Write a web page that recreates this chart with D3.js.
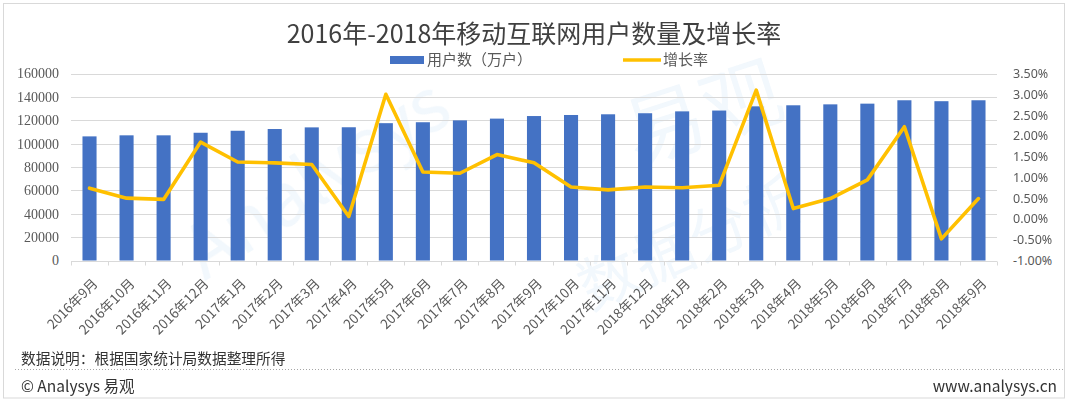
<!DOCTYPE html>
<html>
<head>
<meta charset="utf-8">
<script src="https://cdn.jsdelivr.net/npm/d3@7"></script>
<style>
  html, body { margin: 0; padding: 0; background: #fff; }
  svg { display: block; }
</style>
</head>
<body>
<div id="chart"></div>
<script>
// data
const months = ['2016年9月', '2016年10月', '2016年11月', '2016年12月',
  '2017年1月', '2017年2月', '2017年3月', '2017年4月', '2017年5月', '2017年6月',
  '2017年7月', '2017年8月', '2017年9月', '2017年10月', '2017年11月', '2018年12月',
  '2018年1月', '2018年2月', '2018年3月', '2018年4月', '2018年5月', '2018年6月',
  '2018年7月', '2018年8月', '2018年9月'];
const users = [106200, 107100, 107100, 109300, 111000, 112500, 113900, 114000,
  117500, 118300, 119900, 121400, 123600, 124500, 125100, 126000, 127600,
  128300, 131900, 132800, 133600, 134200, 137100, 136300, 137100];
const growth = [0.74, 0.50, 0.47, 1.85, 1.37, 1.35, 1.31, 0.06, 3.00, 1.13,
  1.10, 1.55, 1.35, 0.77, 0.70, 0.77, 0.75, 0.81, 3.10, 0.25, 0.49, 0.94,
  2.22, -0.48, 0.49];
const leftTicks = [0, 20000, 40000, 60000, 80000, 100000, 120000, 140000, 160000];
const rightTicks = [-1.0, -0.5, 0, 0.5, 1.0, 1.5, 2.0, 2.5, 3.0, 3.5];

const width = 1080, height = 404;
const margin = {top: 73.5, right: 997, bottom: 260.5, left: 71};
const cjk = '"Noto Sans CJK SC", "Noto Sans", sans-serif';

const svg = d3.select('#chart').append('svg')
    .attr('width', width)
    .attr('height', height);

// card frame
svg.append('rect')
    .attr('x', 3.5).attr('y', 3.5)
    .attr('width', 1061).attr('height', 394.5)
    .attr('fill', '#fff')
    .attr('stroke', '#d9d9d9');

// faint watermark
const wm = svg.append('g').style('font-family', cjk).attr('fill', '#8fc1ea').attr('opacity', 0.12);
wm.append('text')
    .attr('transform', 'translate(330,200) rotate(-33)')
    .attr('text-anchor', 'middle')
    .style('font-size', '74px')
    .text('Analysys');
wm.append('text')
    .attr('transform', 'translate(712,140) rotate(-18)')
    .attr('text-anchor', 'middle')
    .style('font-size', '80px')
    .text('易观');
wm.append('text')
    .attr('transform', 'translate(700,262) rotate(-24)')
    .attr('text-anchor', 'middle')
    .style('font-size', '60px')
    .text('数据分析');

let x = d3.scaleBand()
    .domain(months)
    .range([margin.left, margin.right])
    .paddingInner(0.62)
    .paddingOuter(0.31);

let y = d3.scaleLinear()
    .domain([0, 160000])
    .range([margin.bottom, margin.top]);

let y2 = d3.scaleLinear()
    .domain([-1, 3.5])
    .range([margin.bottom, margin.top]);

// gridlines
svg.append('g')
    .selectAll('line')
    .data(leftTicks.slice(1))
    .enter().append('line')
      .attr('x1', margin.left)
      .attr('x2', margin.right)
      .attr('y1', d => Math.round(y(d)) + 0.5)
      .attr('y2', d => Math.round(y(d)) + 0.5)
      .attr('stroke', '#d9d9d9');

// left axis
let yAxis = g => g
    .attr('transform', `translate(${margin.left},0)`)
    .call(d3.axisLeft(y).tickValues(leftTicks).tickFormat(d3.format('d'))
        .tickSize(0).tickPadding(12))
    .call(g => g.select('.domain').remove())
    .call(g => g.selectAll('text')
        .attr('fill', '#595959')
        .style('font-family', '"Liberation Serif", "DejaVu Serif", serif')
        .style('font-size', '14px'));
svg.append('g').call(yAxis);

// right axis
let y2Axis = g => g
    .attr('transform', `translate(${margin.right},0)`)
    .call(d3.axisRight(y2).tickValues(rightTicks)
        .tickFormat(d => d.toFixed(2) + '%')
        .tickSize(0).tickPadding(16))
    .call(g => g.select('.domain').remove())
    .call(g => g.selectAll('text')
        .attr('fill', '#595959')
        .style('font-family', '"Noto Sans", sans-serif')
        .style('font-size', '12.5px'));
svg.append('g').call(y2Axis);

// bars
svg.append('g')
    .attr('fill', '#4472c4')
  .selectAll('rect')
  .data(users)
  .enter().append('rect')
    .attr('x', (d, i) => x(months[i]))
    .attr('y', d => y(d))
    .attr('width', x.bandwidth())
    .attr('height', d => y(0) - y(d));

// x axis line and boundary ticks
const y0 = Math.round(y(0)) + 0.5;
const bounds = d3.range(months.length + 1).map(i => margin.left + i * x.step());
const xg = svg.append('g');
xg.append('line')
    .attr('x1', margin.left).attr('x2', margin.right)
    .attr('y1', y0).attr('y2', y0)
    .attr('stroke', '#d9d9d9');
xg.selectAll('.bt')
    .data(bounds)
    .enter().append('line')
      .attr('x1', d => Math.round(d) + 0.5)
      .attr('x2', d => Math.round(d) + 0.5)
      .attr('y1', y0).attr('y2', y0 + 4)
      .attr('stroke', '#d9d9d9');

// x labels, rotated
let xAxis = g => g
    .attr('transform', `translate(0,${y0})`)
    .call(d3.axisBottom(x).tickSize(0))
    .call(g => g.select('.domain').remove())
    .call(g => g.selectAll('text')
        .attr('y', 0)
        .attr('dy', 0)
        .attr('text-anchor', 'end')
        .attr('transform', 'translate(9,23) rotate(-45)')
        .attr('fill', '#595959')
        .style('font-family', cjk)
        .style('font-size', '13.5px'));
svg.append('g').call(xAxis);

// growth line
let line = d3.line()
    .x((d, i) => x(months[i]) + x.bandwidth() / 2)
    .y(d => y2(d));

svg.append('path')
    .datum(growth)
    .attr('d', line)
    .attr('fill', 'none')
    .attr('stroke', '#ffc000')
    .attr('stroke-width', 3.6)
    .attr('stroke-linejoin', 'round')
    .attr('stroke-linecap', 'round');

// title
svg.append('text')
    .attr('x', 534)
    .attr('y', 43)
    .attr('text-anchor', 'middle')
    .attr('fill', '#404040')
    .style('font-family', cjk)
    .style('font-size', '25px')
    .text('2016年-2018年移动互联网用户数量及增长率');

// legend
const lg = svg.append('g').style('font-family', cjk).style('font-size', '15px').attr('fill', '#595959');
lg.append('rect')
    .attr('x', 390).attr('y', 56)
    .attr('width', 34).attr('height', 8)
    .attr('fill', '#4472c4');
lg.append('text').attr('x', 427).attr('y', 65).text('用户数（万户）');
lg.append('line')
    .attr('x1', 623).attr('x2', 661)
    .attr('y1', 60).attr('y2', 60)
    .attr('stroke', '#ffc000')
    .attr('stroke-width', 3.6);
lg.append('text').attr('x', 663).attr('y', 65).text('增长率');

// footer
svg.append('text')
    .attr('x', 21).attr('y', 364)
    .attr('fill', '#333')
    .style('font-family', cjk)
    .style('font-size', '14.7px')
    .text('数据说明：根据国家统计局数据整理所得');

svg.append('line')
    .attr('x1', 15).attr('x2', 1064)
    .attr('y1', 369.5).attr('y2', 369.5)
    .attr('stroke', '#a6a6a6')
    .attr('stroke-dasharray', '1,2');

svg.append('text')
    .attr('x', 21).attr('y', 392)
    .attr('fill', '#333')
    .style('font-family', cjk)
    .style('font-size', '15.5px')
    .text('© Analysys 易观');

svg.append('text')
    .attr('x', 1057).attr('y', 392)
    .attr('text-anchor', 'end')
    .attr('fill', '#333')
    .style('font-family', cjk)
    .style('font-size', '15.5px')
    .text('www.analysys.cn');
</script>
</body>
</html>
